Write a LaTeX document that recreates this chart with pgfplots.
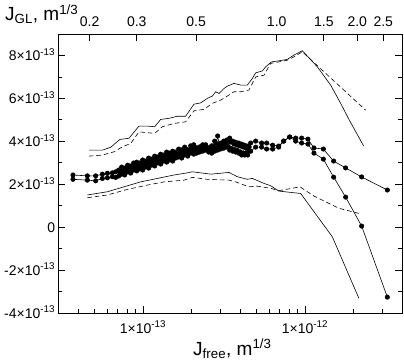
\documentclass[border=0pt]{standalone}
\usepackage{fontspec}
\setmainfont{Liberation Sans}
\usepackage{pgfplots}
\pgfplotsset{compat=1.18}
\begin{document}
\begin{tikzpicture}[x=1pt,y=1pt]
\begin{axis}[
  scale only axis, width=344.2pt, height=279pt,
  at={(58.3pt,-313pt)}, anchor=south west,
  xmode=log,
  major tick length=7pt, minor tick length=4pt,
  every tick/.style={black, line width=0.8pt},
  axis line style={line width=1pt},
  tick align=inside,
  scaled x ticks=false, scaled y ticks=false,
  tick label style={font=\fontsize{14}{16}\selectfont},
  xmin=3e-14, xmax=4e-12, ymin=-4e-13, ymax=9e-13,
  xtick pos=left, ytick pos=both,
  xtick={1e-13,1e-12},
  xticklabels={1×10\textsuperscript{-13},1×10\textsuperscript{-12}},
  minor xtick={4e-14,5e-14,6e-14,7e-14,8e-14,9e-14,2e-13,3e-13,4e-13,5e-13,6e-13,7e-13,8e-13,9e-13,2e-12,3e-12},
  ytick={-4e-13,-2e-13,0,2e-13,4e-13,6e-13,8e-13},
  yticklabels={-4×10\textsuperscript{-13},-2×10\textsuperscript{-13},0,2×10\textsuperscript{-13},4×10\textsuperscript{-13},6×10\textsuperscript{-13},8×10\textsuperscript{-13}},
  minor ytick={-3e-13,-1e-13,1e-13,3e-13,5e-13,7e-13},
  yticklabel style={anchor=base east, yshift=-5pt, xshift=-3pt, inner sep=0pt},
  xticklabel style={anchor=base, yshift=-20pt, inner sep=0pt},
  xlabel={J\textsubscript{free}, m\textsuperscript{1/3}},
  ylabel={J\textsubscript{GL}, m\textsuperscript{1/3}},
  every axis x label/.style={at={(rel axis cs:0.5,0)}, anchor=base, yshift=-42pt, xshift=2pt, inner sep=0pt, font=\fontsize{19}{23}\selectfont},
  every axis y label/.style={at={(rel axis cs:0,1)}, anchor=base west, xshift=-53.3pt, yshift=13.5pt, inner sep=0pt, font=\fontsize{19}{23}\selectfont},
]
% upper solid band
\addplot[black, line width=0.6pt] coordinates {
(0.4642e-13,3.59e-13) (0.5616e-13,3.59e-13) (0.6320e-13,3.72e-13) (0.7211e-13,4.09e-13)
(0.8196e-13,4.14e-13) (0.9447e-13,4.71e-13) (1.0646e-13,4.71e-13) (1.1810e-13,4.68e-13)
(1.2863e-13,5.02e-13) (1.4469e-13,5.07e-13) (1.6309e-13,5.17e-13) (1.8349e-13,5.17e-13)
(2.0647e-13,5.73e-13) (2.2711e-13,5.79e-13) (2.4973e-13,6.00e-13) (2.6816e-13,6.11e-13)
(2.8106e-13,6.31e-13) (2.9445e-13,6.23e-13) (3.1623e-13,6.46e-13) (3.3189e-13,6.57e-13)
(3.6448e-13,6.70e-13) (4.0106e-13,6.62e-13) (4.4099e-13,6.62e-13) (4.7353e-13,6.93e-13)
(4.962e-13,7.19e-13) (5.4575e-13,7.28e-13) (5.7213e-13,7.47e-13) (6.2036e-13,7.70e-13)
(6.911e-13,7.75e-13) (7.787e-13,7.82e-13) (8.555e-13,8.02e-13) (9.638e-13,8.22e-13)
(11.928e-13,7.47e-13) (14.41e-13,6.62e-13) (16.61e-13,5.77e-13) (18.69e-13,5.02e-13)
(23.03e-13,3.78e-13)
};
% upper dashed band
\addplot[black, line width=0.6pt, dash pattern=on 4.5pt off 3pt] coordinates {
(0.4642e-13,3.31e-13) (0.5616e-13,3.36e-13) (0.6622e-13,3.51e-13) (0.7462e-13,3.74e-13)
(0.8396e-13,3.90e-13) (0.9447e-13,4.44e-13) (1.1810e-13,4.37e-13) (1.3178e-13,4.68e-13)
(1.5537e-13,4.83e-13) (1.8349e-13,4.91e-13) (2.0647e-13,5.42e-13) (2.379e-13,5.49e-13)
(2.6816e-13,5.77e-13) (3.0175e-13,5.92e-13) (3.3189e-13,6.11e-13) (3.6448e-13,6.31e-13)
(4.0106e-13,6.31e-13) (4.5123e-13,6.39e-13) (4.962e-13,7.00e-13) (5.5832e-13,7.08e-13)
(6.142e-13,7.63e-13) (6.911e-13,7.70e-13) (7.787e-13,7.78e-13) (8.555e-13,7.94e-13)
(9.638e-13,8.17e-13) (23.70e-13,5.45e-13)
};
% lower solid band
\addplot[black, line width=0.6pt] coordinates {
(0.4537e-13,1.50e-13) (0.6030e-13,1.65e-13) (0.7634e-13,1.88e-13) (0.9678e-13,2.11e-13)
(1.2271e-13,2.27e-13) (1.5537e-13,2.43e-13) (1.8797e-13,2.53e-13) (2.0183e-13,2.58e-13)
(2.6172e-13,2.47e-13) (3.3963e-13,2.55e-13) (3.8252e-13,2.35e-13) (4.4099e-13,2.23e-13)
(4.7353e-13,2.27e-13) (5.5832e-13,2.04e-13) (6.142e-13,1.93e-13) (6.911e-13,1.68e-13)
(9.408e-13,1.57e-13) (14.76e-13,-0.45e-13) (21.54e-13,-3.32e-13)
};
% lower dashed band
\addplot[black, line width=0.6pt, dash pattern=on 4.5pt off 3pt] coordinates {
(0.4537e-13,1.37e-13) (0.6030e-13,1.50e-13) (0.8014e-13,1.76e-13) (1.0646e-13,1.96e-13)
(1.3479e-13,2.11e-13) (1.7910e-13,2.19e-13) (2.0183e-13,2.32e-13) (2.4973e-13,2.23e-13)
(3.3963e-13,2.19e-13) (3.7352e-13,2.11e-13) (4.5123e-13,1.88e-13) (5.0848e-13,1.91e-13)
(6.142e-13,1.81e-13) (6.911e-13,1.70e-13) (9.314e-13,1.88e-13) (11.366e-13,1.45e-13)
(16.21e-13,0.88e-13) (21.54e-13,0.64e-13)
};
% series A
\addplot[black, line width=0.6pt, mark=*, mark size=2.2pt] coordinates {
(0.3697e-13,2.43e-13) (0.4537e-13,2.39e-13) (0.5105e-13,2.39e-13) (0.5616e-13,2.47e-13)
(0.6030e-13,2.51e-13) (0.6474e-13,2.53e-13) (0.6783e-13,2.58e-13)
(0.7079e-13,2.66e-13) (0.7232e-13,2.61e-13) (0.7388e-13,2.80e-13) (0.7547e-13,2.66e-13)
(0.7709e-13,2.75e-13) (0.7875e-13,2.70e-13) (0.8043e-13,2.89e-13) (0.8216e-13,2.75e-13)
(0.8396e-13,2.85e-13) (0.8577e-13,2.80e-13) (0.8761e-13,2.99e-13) (0.8950e-13,2.89e-13)
(0.9145e-13,3.03e-13) (0.9342e-13,2.89e-13) (0.9541e-13,2.99e-13) (0.9747e-13,2.94e-13)
(0.9957e-13,3.13e-13) (1.0172e-13,2.99e-13) (1.0391e-13,3.08e-13) (1.0615e-13,3.03e-13)
(1.0844e-13,3.22e-13) (1.1078e-13,3.08e-13) (1.1317e-13,3.17e-13) (1.1561e-13,3.12e-13)
(1.1810e-13,3.31e-13) (1.2065e-13,3.17e-13) (1.2325e-13,3.27e-13) (1.2591e-13,3.22e-13)
(1.2863e-13,3.40e-13) (1.3140e-13,3.26e-13) (1.3424e-13,3.36e-13) (1.3713e-13,3.31e-13)
(1.4008e-13,3.50e-13) (1.4310e-13,3.36e-13) (1.4620e-13,3.45e-13) (1.4935e-13,3.38e-13)
(1.5256e-13,3.54e-13) (1.5585e-13,3.40e-13) (1.5922e-13,3.50e-13) (1.6265e-13,3.45e-13)
(1.6616e-13,3.64e-13) (1.6974e-13,3.50e-13) (1.7340e-13,3.60e-13) (1.7714e-13,3.55e-13)
(1.8097e-13,3.73e-13) (1.8487e-13,3.55e-13) (1.8884e-13,3.61e-13) (1.9291e-13,3.58e-13)
(1.9706e-13,3.79e-13) (2.0131e-13,3.70e-13) (2.0560e-13,3.84e-13) (2.1003e-13,3.65e-13)
(2.1458e-13,3.70e-13) (2.1920e-13,3.60e-13) (2.2387e-13,3.74e-13) (2.2869e-13,3.67e-13)
(2.3363e-13,3.84e-13) (2.3866e-13,3.72e-13) (2.4378e-13,3.84e-13) (2.4903e-13,3.65e-13)
(2.5441e-13,3.70e-13) (2.5989e-13,3.63e-13) (2.6552e-13,3.79e-13) (2.7124e-13,3.78e-13)
(2.7708e-13,4.01e-13) (2.8305e-13,3.90e-13) (2.8915e-13,4.25e-13) (2.9538e-13,3.85e-13)
(3.0175e-13,3.92e-13) (3.0825e-13,3.85e-13) (3.1486e-13,4.01e-13) (3.2164e-13,3.92e-13)
(3.2868e-13,4.06e-13) (3.3576e-13,3.99e-13) (3.4300e-13,4.15e-13) (3.5039e-13,3.96e-13)
(3.5793e-13,4.01e-13) (3.6564e-13,3.87e-13) (3.7352e-13,3.96e-13) (3.8157e-13,3.82e-13)
(3.8978e-13,3.92e-13) (3.9818e-13,3.78e-13) (4.0682e-13,3.87e-13) (4.1558e-13,3.73e-13)
(4.2451e-13,3.82e-13) (4.3366e-13,3.68e-13) (4.4301e-13,3.78e-13) (4.5255e-13,3.73e-13)
(4.6228e-13,3.92e-13)
(4.962e-13,4.01e-13) (5.403e-13,3.92e-13) (5.801e-13,3.92e-13) (6.318e-13,3.82e-13)
(6.882e-13,3.78e-13) (7.388e-13,4.01e-13) (8.046e-13,4.20e-13) (8.762e-13,4.15e-13)
(9.541e-13,4.15e-13) (10.435e-13,4.10e-13) (11.366e-13,3.69e-13) (12.991e-13,3.64e-13)
(15.036e-13,3.08e-13) (17.833e-13,2.76e-13) (22.387e-13,2.34e-13) (32.26e-13,1.73e-13)
};
% series B
\addplot[black, line width=0.6pt, mark=*, mark size=2.2pt] coordinates {
(0.3697e-13,2.23e-13) (0.4537e-13,2.19e-13) (0.5105e-13,2.16e-13) (0.5616e-13,2.27e-13)
(0.6030e-13,2.30e-13) (0.6474e-13,2.35e-13) (0.6783e-13,2.32e-13)
(0.7079e-13,2.38e-13) (0.7232e-13,2.53e-13) (0.7388e-13,2.47e-13) (0.7547e-13,2.55e-13)
(0.7709e-13,2.43e-13) (0.7875e-13,2.60e-13) (0.8043e-13,2.57e-13) (0.8216e-13,2.65e-13)
(0.8396e-13,2.52e-13) (0.8577e-13,2.69e-13) (0.8761e-13,2.66e-13) (0.8950e-13,2.74e-13)
(0.9145e-13,2.62e-13) (0.9342e-13,2.77e-13) (0.9541e-13,2.71e-13) (0.9747e-13,2.79e-13)
(0.9957e-13,2.66e-13) (1.0172e-13,2.83e-13) (1.0391e-13,2.80e-13) (1.0615e-13,2.88e-13)
(1.0844e-13,2.75e-13) (1.1078e-13,2.92e-13) (1.1317e-13,2.89e-13) (1.1561e-13,2.97e-13)
(1.1810e-13,2.85e-13) (1.2065e-13,3.02e-13) (1.2325e-13,2.99e-13) (1.2591e-13,3.07e-13)
(1.2863e-13,2.94e-13) (1.3140e-13,3.11e-13) (1.3424e-13,3.08e-13) (1.3713e-13,3.16e-13)
(1.4008e-13,3.03e-13) (1.4310e-13,3.18e-13) (1.4620e-13,3.13e-13) (1.4935e-13,3.21e-13)
(1.5256e-13,3.08e-13) (1.5585e-13,3.25e-13) (1.5922e-13,3.22e-13) (1.6265e-13,3.35e-13)
(1.6616e-13,3.27e-13) (1.6974e-13,3.35e-13) (1.7340e-13,3.22e-13) (1.7714e-13,3.39e-13)
(1.8097e-13,3.36e-13) (1.8487e-13,3.44e-13) (1.8884e-13,3.31e-13) (1.9291e-13,3.48e-13)
(1.9706e-13,3.45e-13) (2.0131e-13,3.53e-13) (2.0560e-13,3.40e-13) (2.1003e-13,3.53e-13)
(2.1458e-13,3.45e-13) (2.1920e-13,3.58e-13) (2.2387e-13,3.50e-13) (2.2869e-13,3.62e-13)
(2.3363e-13,3.54e-13) (2.3866e-13,3.67e-13) (2.4378e-13,3.59e-13) (2.4903e-13,3.65e-13)
(2.5441e-13,3.50e-13) (2.5989e-13,3.58e-13) (2.6552e-13,3.45e-13) (2.7124e-13,3.60e-13)
(2.7708e-13,3.54e-13) (2.8305e-13,3.67e-13) (2.8915e-13,3.59e-13) (2.9538e-13,3.72e-13)
(3.0175e-13,3.64e-13) (3.0825e-13,3.76e-13) (3.1486e-13,3.68e-13) (3.2164e-13,3.81e-13)
(3.2868e-13,3.73e-13) (3.3576e-13,3.76e-13) (3.4300e-13,3.59e-13) (3.5039e-13,3.67e-13)
(3.5793e-13,3.54e-13) (3.6564e-13,3.62e-13) (3.7352e-13,3.50e-13) (3.8157e-13,3.58e-13)
(3.8978e-13,3.45e-13) (3.9818e-13,3.51e-13) (4.0682e-13,3.36e-13) (4.1558e-13,3.46e-13)
(4.2451e-13,3.36e-13) (4.3366e-13,3.46e-13) (4.4301e-13,3.36e-13) (4.5255e-13,3.55e-13)
(4.6228e-13,3.54e-13)
(4.962e-13,3.73e-13) (5.403e-13,3.73e-13) (5.801e-13,3.64e-13) (6.318e-13,3.64e-13)
(6.882e-13,3.73e-13) (7.388e-13,4.01e-13) (8.046e-13,4.20e-13) (8.762e-13,4.01e-13)
(9.541e-13,3.92e-13) (10.435e-13,3.87e-13) (11.366e-13,3.45e-13) (12.991e-13,3.17e-13)
(15.036e-13,2.33e-13) (17.833e-13,1.40e-13) (22.387e-13,0.05e-13) (32.26e-13,-3.26e-13)
};
\end{axis}
\begin{axis}[
  scale only axis, width=344.2pt, height=279pt,
  at={(58.3pt,-313pt)}, anchor=south west,
  xmode=log,
  xmin=0.1528, xmax=2.951, ymin=0, ymax=1,
  hide y axis,
  axis line style={line width=1pt},
  major tick length=7pt,
  every tick/.style={black, line width=0.8pt},
  tick align=inside,
  xtick pos=right, xticklabel pos=right,
  xtick={0.2,0.3,0.5,1,1.5,2,2.5},
  xticklabels={0.2,0.3,0.5,1.0,1.5,2.0,2.5},
  xminorticks=false,
  tick label style={font=\fontsize{14}{16}\selectfont},
  xticklabel style={anchor=base, yshift=8pt, inner sep=0pt},
]
\addplot[draw=none] coordinates {(1,0.5)};
\end{axis}
\pgfresetboundingbox
\path[use as bounding box] (0pt,0pt) rectangle (404pt,-360pt);
\end{tikzpicture}
\end{document}
